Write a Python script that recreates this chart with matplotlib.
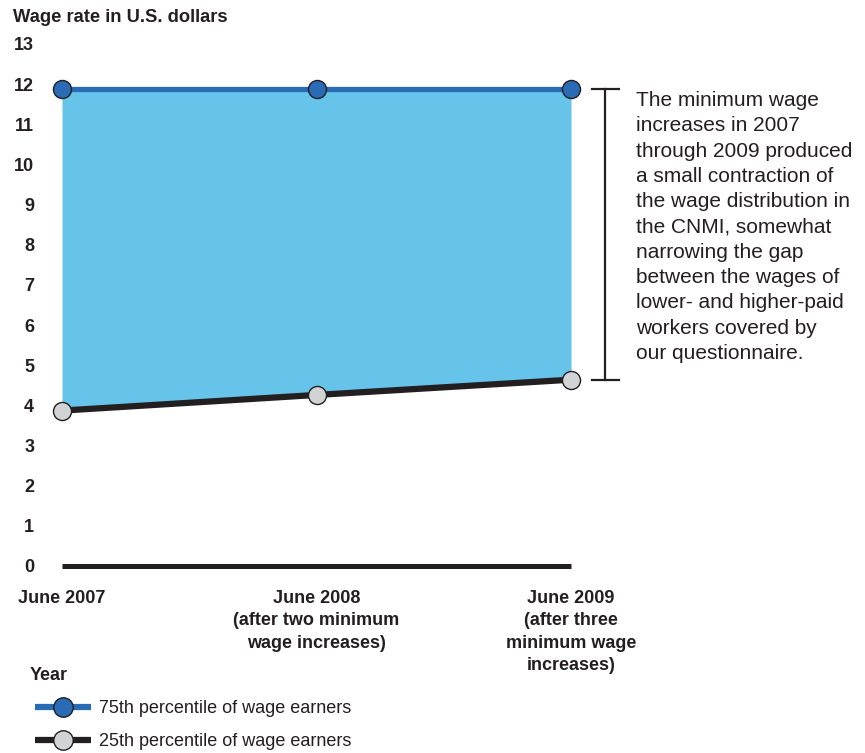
import matplotlib
matplotlib.use("Agg")
import matplotlib.pyplot as plt
import matplotlib.transforms as mtransforms
from matplotlib.lines import Line2D

plt.rcParams['font.family'] = ['Liberation Sans', 'DejaVu Sans']

# Data
periods = ['June 2007',
           'June 2008\n(after two minimum\nwage increases)',
           'June 2009\n(after three\nminimum wage\nincreases)']
p75_wage = [11.88, 11.88, 11.88]
p25_wage = [3.87, 4.26, 4.64]
y_ticks = list(range(0, 14))
series_labels = ['75th percentile of wage earners', '25th percentile of wage earners']
note = ("The minimum wage\nincreases in 2007\nthrough 2009 produced\n"
        "a small contraction of\nthe wage distribution in\nthe CNMI, somewhat\n"
        "narrowing the gap\nbetween the wages of\nlower- and higher-paid\n"
        "workers covered by\nour questionnaire.")

BLUE = '#2a6bb5'
FILL = '#66c4ea'
DARK = '#231f20'
GRAY = '#d2d3d5'
TEXT = '#231f20'

W, H = 865, 753
fig = plt.figure(figsize=(W / 100, H / 100), dpi=100)
ax = fig.add_axes([62 / W, (H - 566) / H, (571 - 62) / W, (566 - 44) / H])

x = list(range(len(periods)))
ax.fill_between(x, p25_wage, p75_wage, color=FILL, lw=0, zorder=1)
ax.plot(x, p75_wage, color=BLUE, lw=3.8, marker='o', ms=13, mfc=BLUE,
        mec=DARK, mew=1.0, clip_on=False, zorder=3, solid_capstyle='butt')
ax.plot(x, p25_wage, color=DARK, lw=4.5, marker='o', ms=13, mfc=GRAY,
        mec=DARK, mew=1.0, clip_on=False, zorder=3, solid_capstyle='butt')

ax.set_xlim(0, 2)
ax.set_ylim(0, 13)
ax.set_yticks(y_ticks)
ax.set_yticklabels([str(t) for t in y_ticks], fontsize=13, fontweight='bold',
                   color=TEXT)
ax.set_xticks(x)
ax.set_xticklabels(periods, fontsize=13, fontweight='bold', color=TEXT,
                   linespacing=1.42, va='top')
ax.tick_params(axis='y', length=0, pad=20)
ax.tick_params(axis='x', length=0, pad=17)
for side in ('top', 'left', 'right'):
    ax.spines[side].set_visible(False)
ax.spines['bottom'].set_linewidth(3.6)
ax.spines['bottom'].set_color(DARK)
ax.spines['bottom'].set_capstyle('butt')
ax.set_facecolor('none')

# Bracket spanning the final-year range
trans = mtransforms.blended_transform_factory(ax.transAxes, ax.transData)
bx, c0, c1 = 1.067, 1.041, 1.094
ax.plot([bx, bx], [p25_wage[-1], p75_wage[-1]], color=DARK, lw=1.6,
        transform=trans, clip_on=False)
for yv in (p25_wage[-1], p75_wage[-1]):
    ax.plot([c0, c1], [yv, yv], color=DARK, lw=1.6, transform=trans,
            clip_on=False)

fig.text(636 / W, 1 - 91 / H, note, fontsize=15, color=TEXT, va='top',
         ha='left', linespacing=1.42)

fig.text(13 / W, 1 - 17 / H, 'Wage rate in U.S. dollars', fontsize=13.2,
         fontweight='bold', color=TEXT, va='center', ha='left')
fig.text(30 / W, 1 - 676 / H, 'Year', fontsize=13, fontweight='bold',
         color=TEXT, va='center', ha='left')

handles = [
    Line2D([], [], color=BLUE, lw=4.5, marker='o', ms=14, mfc=BLUE, mec=DARK,
           mew=1.0, solid_capstyle='butt'),
    Line2D([], [], color=DARK, lw=4.5, marker='o', ms=14, mfc=GRAY, mec=DARK,
           mew=1.0, solid_capstyle='butt'),
]
fig.legend(handles, series_labels, loc='upper left',
           bbox_to_anchor=(35 / W, 1 - 700 / H), frameon=False,
           fontsize=13, handlelength=3.1, handletextpad=0.45,
           labelspacing=0.9, borderpad=0, borderaxespad=0,
           labelcolor=TEXT)

fig.savefig('out.png', dpi=100)
